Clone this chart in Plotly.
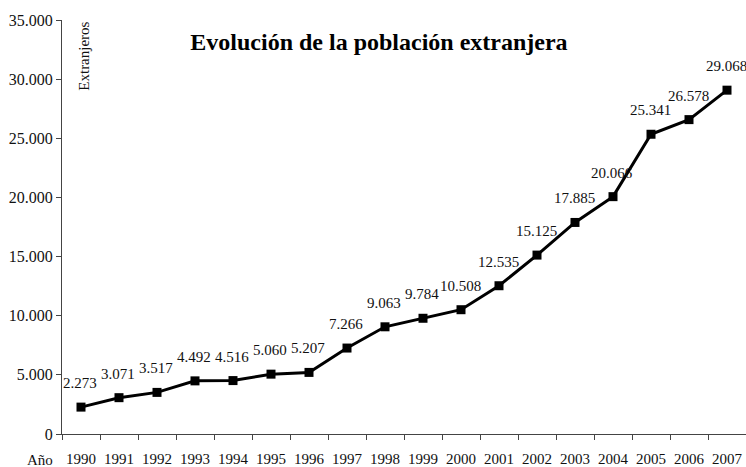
import plotly.graph_objects as go

years = ["1990", "1991", "1992", "1993", "1994", "1995", "1996", "1997", "1998",
         "1999", "2000", "2001", "2002", "2003", "2004", "2005", "2006", "2007"]
extranjeros = [2273, 3071, 3517, 4492, 4516, 5060, 5207, 7266, 9063,
               9784, 10508, 12535, 15125, 17885, 20066, 25341, 26578, 29068]
label_texts = [f"{v:,}".replace(",", ".") for v in extranjeros]

FONT = "Liberation Serif"

fig = go.Figure()
fig.add_trace(go.Scatter(
    x=years, y=extranjeros, mode="lines+markers",
    line=dict(color="black", width=3),
    marker=dict(symbol="square", size=9, color="black"),
    hoverinfo="x+y", showlegend=False,
))

annotations = []
for i, (v, t) in enumerate(zip(extranjeros, label_texts)):
    annotations.append(dict(x=i, xref="x", y=v, yref="y", text=t, showarrow=False,
                            yshift=24, xshift=-1,
                            font=dict(family=FONT, size=15, color="#111")))
annotations.append(dict(x=0.031, xref="paper", y=1.0, yref="paper", text="Extranjeros",
                        textangle=-90, showarrow=False, xanchor="center", yanchor="top",
                        font=dict(family=FONT, size=15, color="#111")))
annotations.append(dict(x=-0.054, xref="paper", y=-0.063, yref="paper", text="Año",
                        showarrow=False, xanchor="left", yanchor="middle",
                        font=dict(family=FONT, size=15, color="#111")))

fig.update_layout(
    width=746, height=467,
    margin=dict(l=62, r=0, t=20, b=33),
    paper_bgcolor="white", plot_bgcolor="white",
    separators=",.",
    title=dict(text="<b>Evolución de la población extranjera</b>", x=0.508, xanchor="center",
               y=0.910, yanchor="middle", font=dict(family=FONT, size=24, color="black")),
    font=dict(family=FONT, size=15, color="#111"),
    annotations=annotations,
    xaxis=dict(type="category", range=[-0.5, 17.5], showline=True, linecolor="#444",
               linewidth=1, ticks="outside", tickson="boundaries", ticklen=5,
               tickcolor="#444", showgrid=False, zeroline=False, automargin=False,
               tickangle=0, ticklabelstandoff=11,
               tickfont=dict(family=FONT, size=15, color="#111")),
    yaxis=dict(range=[0, 35000], dtick=5000, tickformat=",.0f", showline=True,
               linecolor="#444", linewidth=1, ticks="outside", ticklen=5, tickcolor="#444",
               showgrid=False, zeroline=False, automargin=False,
               tickfont=dict(family=FONT, size=16, color="#111")),
)

fig.write_html("out.html", config={"displayModeBar": False},
               post_script="document.body.style.margin='0';document.body.style.overflow='hidden';")
